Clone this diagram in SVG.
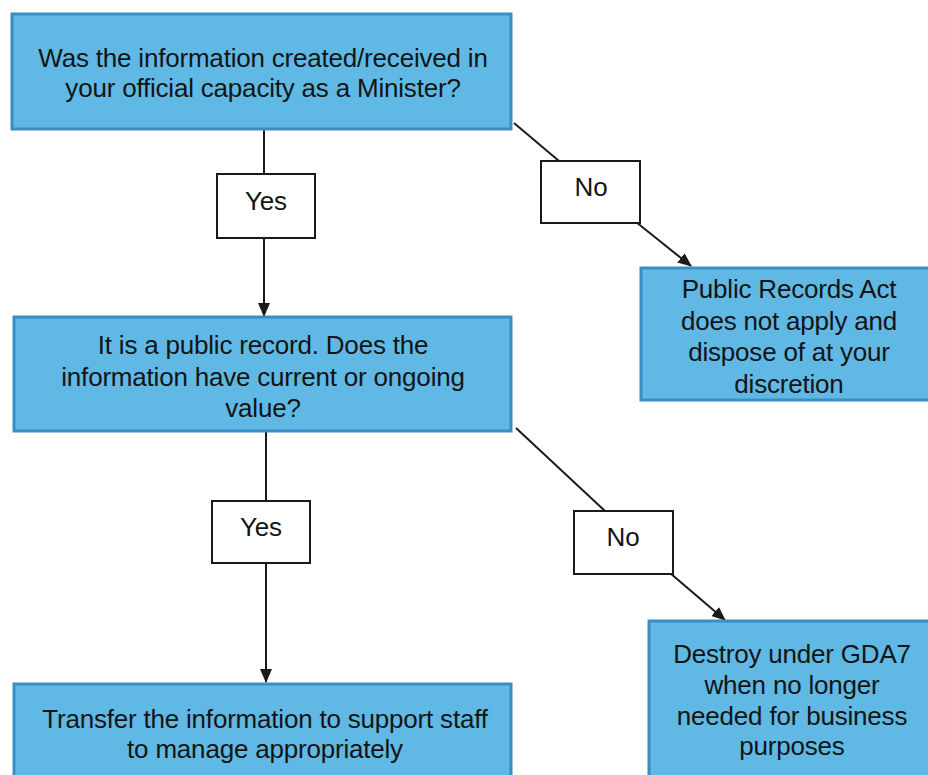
<svg xmlns="http://www.w3.org/2000/svg" width="928" height="775" viewBox="0 0 928 775">
<style>
.box{fill:#5fb9e4;stroke:#3b8ec4;stroke-width:3}
.lbl{fill:#ffffff;stroke:#1a1a1a;stroke-width:2}
.t{font-family:"Liberation Sans",Arial,sans-serif;font-size:26px;fill:#141414;text-anchor:middle;letter-spacing:-0.2px}
.c{fill:none;stroke:#1a1a1a;stroke-width:2}
</style>
<defs>
<marker id="ah" markerUnits="userSpaceOnUse" markerWidth="14" markerHeight="14" viewBox="0 0 14 14" refX="13" refY="7" orient="auto">
<path d="M0,1 L14,7 L0,13 Z" fill="#1a1a1a"/>
</marker>
</defs>
<rect width="928" height="775" fill="#ffffff"/>
<g id="connectors">
<line class="c" x1="264" y1="129" x2="264" y2="174"/>
<line class="c" x1="264" y1="238" x2="264" y2="316" marker-end="url(#ah)"/>
<line class="c" x1="514" y1="123" x2="559" y2="161"/>
<line class="c" x1="636" y1="222" x2="691" y2="266" marker-end="url(#ah)"/>
<line class="c" x1="266" y1="432" x2="266" y2="501"/>
<line class="c" x1="266" y1="563" x2="266" y2="682" marker-end="url(#ah)"/>
<line class="c" x1="516" y1="428" x2="605" y2="511"/>
<line class="c" x1="670" y1="573" x2="725" y2="620" marker-end="url(#ah)"/>
</g>
<g id="q1">
<rect class="box" x="12" y="14" width="499" height="115"/>
<text class="t" x="263" y="67">Was the information created/received in</text>
<text class="t" x="263" y="97">your official capacity as a Minister?</text>
</g>
<g id="yes1">
<rect class="lbl" x="217" y="174" width="98" height="64"/>
<text class="t" x="266" y="210">Yes</text>
</g>
<g id="no1">
<rect class="lbl" x="541" y="161" width="99" height="62"/>
<text class="t" x="591" y="196">No</text>
</g>
<g id="r1">
<rect class="box" x="641" y="268" width="300" height="132"/>
<text class="t" x="789" y="298">Public Records Act</text>
<text class="t" x="789" y="330">does not apply and</text>
<text class="t" x="789" y="361">dispose of at your</text>
<text class="t" x="789" y="393">discretion</text>
</g>
<g id="q2">
<rect class="box" x="14" y="317" width="497" height="114"/>
<text class="t" x="263" y="354">It is a public record. Does the</text>
<text class="t" x="263" y="386">information have current or ongoing</text>
<text class="t" x="263" y="417">value?</text>
</g>
<g id="yes2">
<rect class="lbl" x="212" y="501" width="98" height="62"/>
<text class="t" x="261" y="536">Yes</text>
</g>
<g id="no2">
<rect class="lbl" x="574" y="511" width="99" height="63"/>
<text class="t" x="623" y="546">No</text>
</g>
<g id="r2">
<rect class="box" x="14" y="684" width="497" height="110"/>
<text class="t" x="265" y="728">Transfer the information to support staff</text>
<text class="t" x="265" y="758">to manage appropriately</text>
</g>
<g id="r3">
<rect class="box" x="649" y="621" width="300" height="170"/>
<text class="t" x="792" y="663">Destroy under GDA7</text>
<text class="t" x="792" y="694">when no longer</text>
<text class="t" x="792" y="725">needed for business</text>
<text class="t" x="792" y="755">purposes</text>
</g>
</svg>
